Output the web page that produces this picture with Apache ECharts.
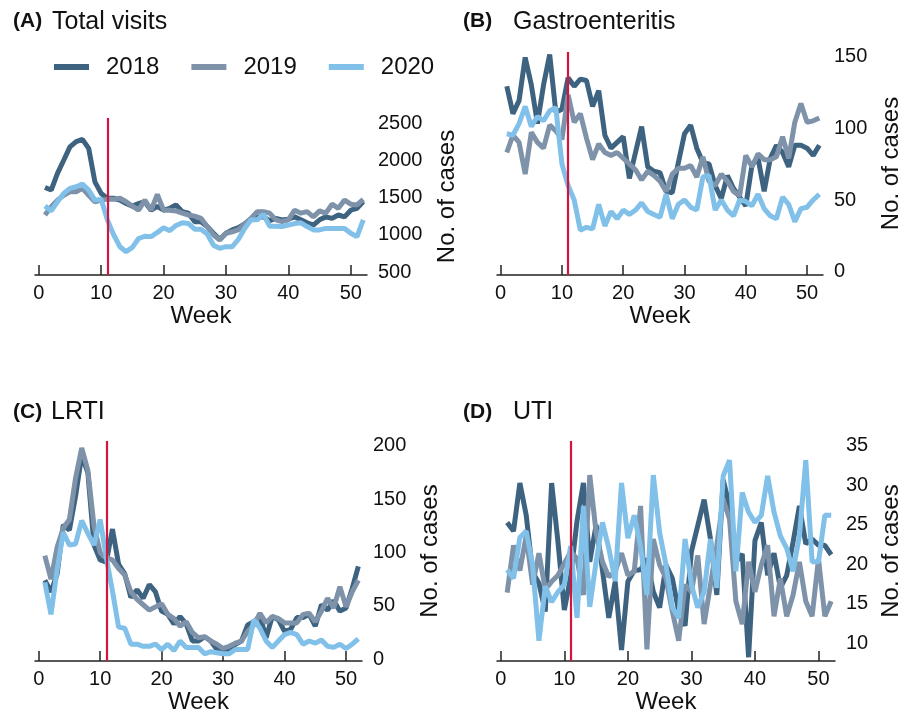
<!DOCTYPE html>
<html>
<head>
<meta charset="utf-8">
<script src="https://cdn.jsdelivr.net/npm/echarts@6/dist/echarts.min.js"></script>
<style>
html,body{margin:0;padding:0;background:#fff;}
#chart{width:912px;height:715px;}
</style>
</head>
<body>
<div id="chart"></div>
<script>
// ---- data ----
const weeks = [1,2,3,4,5,6,7,8,9,10,11,12,13,14,15,16,17,18,19,20,21,22,23,24,25,26,27,28,29,30,31,32,33,34,35,36,37,38,39,40,41,42,43,44,45,46,47,48,49,50,51,52];
const years = ['2018','2019','2020'];
const weekTicks = [0,10,20,30,40,50];
const lockdownWeek = 11;

const totalVisits2018 = [1635,1600,1823,2000,2180,2250,2280,2160,1710,1555,1490,1490,1465,1420,1385,1420,1440,1330,1380,1330,1355,1400,1310,1290,1175,1175,1110,1020,940,1020,1065,1095,1145,1200,1240,1240,1190,1220,1200,1210,1240,1200,1160,1130,1200,1240,1220,1265,1240,1330,1355,1445];
const totalVisits2019 = [1264,1376,1465,1530,1577,1577,1622,1530,1443,1465,1475,1475,1490,1443,1385,1330,1465,1330,1540,1330,1330,1320,1290,1265,1250,1220,1110,1000,930,1020,1040,1070,1145,1220,1310,1310,1290,1200,1175,1200,1330,1290,1310,1240,1320,1290,1410,1355,1465,1410,1400,1475];
const totalVisits2020 = [1385,1320,1443,1555,1622,1645,1680,1600,1465,1475,1200,1000,840,773,830,950,980,975,1030,1095,1055,1125,1160,1150,1075,1075,1010,860,817,840,840,940,1085,1200,1200,1275,1115,1115,1110,1130,1150,1160,1110,1065,1065,1085,1085,1085,1085,1020,975,1200];

const gastro2018 = [129,110,119,149,130,103,130,151,111,113,135,129,134,133,115,126,95,86,90,94,65,83,101,73,70,69,56,55,76,96,102,86,76,75,60,51,67,58,52,46,74,79,56,79,88,83,73,88,88,86,81,88];
const gastro2019 = [83,95,90,68,97,90,86,102,98,92,123,104,110,93,78,89,83,81,83,79,75,71,64,70,67,63,56,68,72,72,74,66,80,63,60,68,63,56,53,81,73,82,78,78,80,94,79,104,117,104,105,107];
const gastro2020 = [96,95,103,115,101,108,105,112,114,75,60,50,29,31,30,47,32,42,37,43,40,43,48,42,40,38,54,37,47,50,45,43,66,67,43,50,43,39,50,49,46,54,44,39,37,52,47,35,44,45,50,54];

const lrti2018 = [74,63,80,126,121,153,191,175,107,93,91,122,89,80,58,65,57,70,63,45,42,33,40,33,17,17,21,17,9,6,8,14,17,32,35,40,20,40,37,26,28,39,39,42,31,51,46,55,45,48,66,87];
const lrti2019 = [97,75,105,123,131,170,198,177,125,100,95,93,85,79,63,56,51,46,49,52,42,38,31,35,25,20,21,17,14,10,12,15,17,26,32,43,34,40,38,34,34,34,42,43,35,45,57,48,68,49,63,74];
const lrti2020 = [72,42,84,119,107,108,130,118,107,131,95,64,30,29,14,14,12,12,14,9,14,8,17,11,11,11,5,7,6,5,5,9,9,9,37,29,17,11,17,23,25,23,14,17,15,18,12,11,14,10,14,19];

const uti2018 = [25.3,24.2,30.3,26.2,19,17.6,14,30.3,22.8,14.2,18.5,25.5,30.3,20.3,25,19.2,13.2,17.8,9.1,17.8,19.2,19.3,20.7,16.5,14.5,19.9,18.2,14,12.2,21.6,24.9,28.2,23.2,16.1,30.7,27.4,20.3,21.3,8.2,23,25.3,18.6,21.4,17,18.6,22.8,27.4,22.6,23.2,22.4,22.4,21.2];
const uti2019 = [16.4,22.4,19.2,23.6,17.4,21.4,16.8,17.8,18.6,20.1,21.6,20.7,16.1,31.3,24,20.3,18.4,19.1,21.4,18.6,19.1,27.4,9.2,23.2,19.9,18.2,14,10.3,17.4,16.5,21.1,12.4,17.4,22.4,28.2,25.7,15.3,12.4,20.3,16.5,19.9,22.4,13.4,18.2,13.4,16.1,20.3,15.3,13.4,20.7,13.4,15.3];
const uti2020 = [19.3,18.2,23.4,24.2,19.9,10.3,17.2,15.2,16.5,17.4,22.3,13.2,27.4,14.6,20.3,25.3,22,17.9,30.3,23.3,26.2,22.2,16.1,31.3,24,19.9,14.5,13.2,23.2,17.4,14.5,16.5,23.2,17,31.2,33.2,19.1,29.1,26.6,25.3,26.2,31.2,26.6,23.6,22,19.1,23.6,33.2,20.3,20.3,26.2,26.2];

const panelLetters = ['(A)','(B)','(C)','(D)'];
const panelTitles = ['Total visits','Gastroenteritis','LRTI','UTI'];
const yTicksA = [500,1000,1500,2000,2500];
const yTicksB = [0,50,100,150];
const yTicksC = [0,50,100,150,200];
const yTicksD = [10,15,20,25,30,35];

// ---- styling / layout ----
const FONT = '"Liberation Sans", Arial, sans-serif';
const colors = ['#3e6380','#7e93a9','#80c0e9'];
const redColor = '#d3143f';
const panels = [
  {series:[totalVisits2018,totalVisits2019,totalVisits2020], ticks:yTicksA, min:460, max:2567, nameGap:68,
   grid:{left:35, top:118, width:332, height:157}},
  {series:[gastro2018,gastro2019,gastro2020], ticks:yTicksB, min:-2.1, max:152.8, nameGap:56,
   grid:{left:497, top:52, width:326, height:223}},
  {series:[lrti2018,lrti2019,lrti2020], ticks:yTicksC, min:-1.85, max:204.6, nameGap:56,
   grid:{left:35, top:441, width:327, height:223}},
  {series:[uti2018,uti2019,uti2020], ticks:yTicksD, min:7.71, max:35.63, nameGap:44,
   grid:{left:497, top:441, width:338, height:223}}
];
const titlePos = [
  {l:13, t:11, l2:52, t2:11},
  {l:463, t:11, l2:513, t2:11},
  {l:13, t:402, l2:51, t2:401},
  {l:463, t:402, l2:513, t2:401}
];

const grids = [], xAxes = [], yAxes = [], series = [], titles = [];
panels.forEach((p, i) => {
  grids.push(Object.assign({containLabel:false}, p.grid));
  xAxes.push({
    type:'value', gridIndex:i, min:-0.6, max:52.6,
    name:'Week', nameLocation:'middle', nameGap:28,
    nameTextStyle:{fontSize:24, color:'#111', fontFamily:FONT},
    axisLine:{show:true, onZero:false, lineStyle:{color:'#222', width:1.5}},
    axisTick:{show:true, inside:true, length:10, customValues:weekTicks, lineStyle:{color:'#222', width:1.5}},
    axisLabel:{show:true, customValues:weekTicks, fontSize:20, margin:8, color:'#111', fontFamily:FONT},
    splitLine:{show:false}
  });
  yAxes.push({
    type:'value', gridIndex:i, position:'right', min:p.min, max:p.max,
    name:'No. of cases', nameLocation:'middle', nameRotate:90, nameGap:p.nameGap,
    nameTextStyle:{fontSize:24, color:'#111', fontFamily:FONT},
    axisLine:{show:false}, axisTick:{show:false}, splitLine:{show:false},
    axisLabel:{show:true, customValues:p.ticks, fontSize:20, margin:11, color:'#111', fontFamily:FONT,
      formatter: v => String(Math.round(v))}
  });
  p.series.forEach((vals, k) => {
    series.push({
      type:'line', name:years[k], xAxisIndex:i, yAxisIndex:i,
      data: weeks.map((w, j) => [w, vals[j]]),
      showSymbol:false, symbol:'none', silent:true, animation:false,
      lineStyle:{color:colors[k], width:5}, itemStyle:{color:colors[k]}, z:2+k
    });
  });
  series.push({
    type:'line', name:'lockdown', xAxisIndex:i, yAxisIndex:i, data:[], z:10, animation:false,
    markLine:{silent:true, symbol:['none','none'], label:{show:false}, animation:false,
      lineStyle:{color:redColor, width:2.2, type:'solid'}, data:[{xAxis:lockdownWeek}]}
  });
  titles.push({text:panelLetters[i], left:titlePos[i].l, top:titlePos[i].t, padding:0,
    textStyle:{fontSize:21, fontWeight:'bold', color:'#111', fontFamily:FONT}});
  titles.push({text:panelTitles[i], left:titlePos[i].l2, top:titlePos[i].t2 - 1, padding:0,
    textStyle:{fontSize:25, fontWeight:'normal', color:'#111', fontFamily:FONT}});
});

const chart = echarts.init(document.getElementById('chart'), null, {renderer:'canvas'});
chart.setOption({
  backgroundColor:'#fff',
  animation:false,
  title: titles,
  legend:{
    data:years, left:54, top:55, padding:0, icon:'rect', itemWidth:35, itemHeight:6, itemGap:32,
    textStyle:{fontSize:24, color:'#111', fontFamily:FONT, padding:[0,0,0,12]},
    selectedMode:false
  },
  grid: grids,
  xAxis: xAxes,
  yAxis: yAxes,
  series: series
});
</script>
</body>
</html>
